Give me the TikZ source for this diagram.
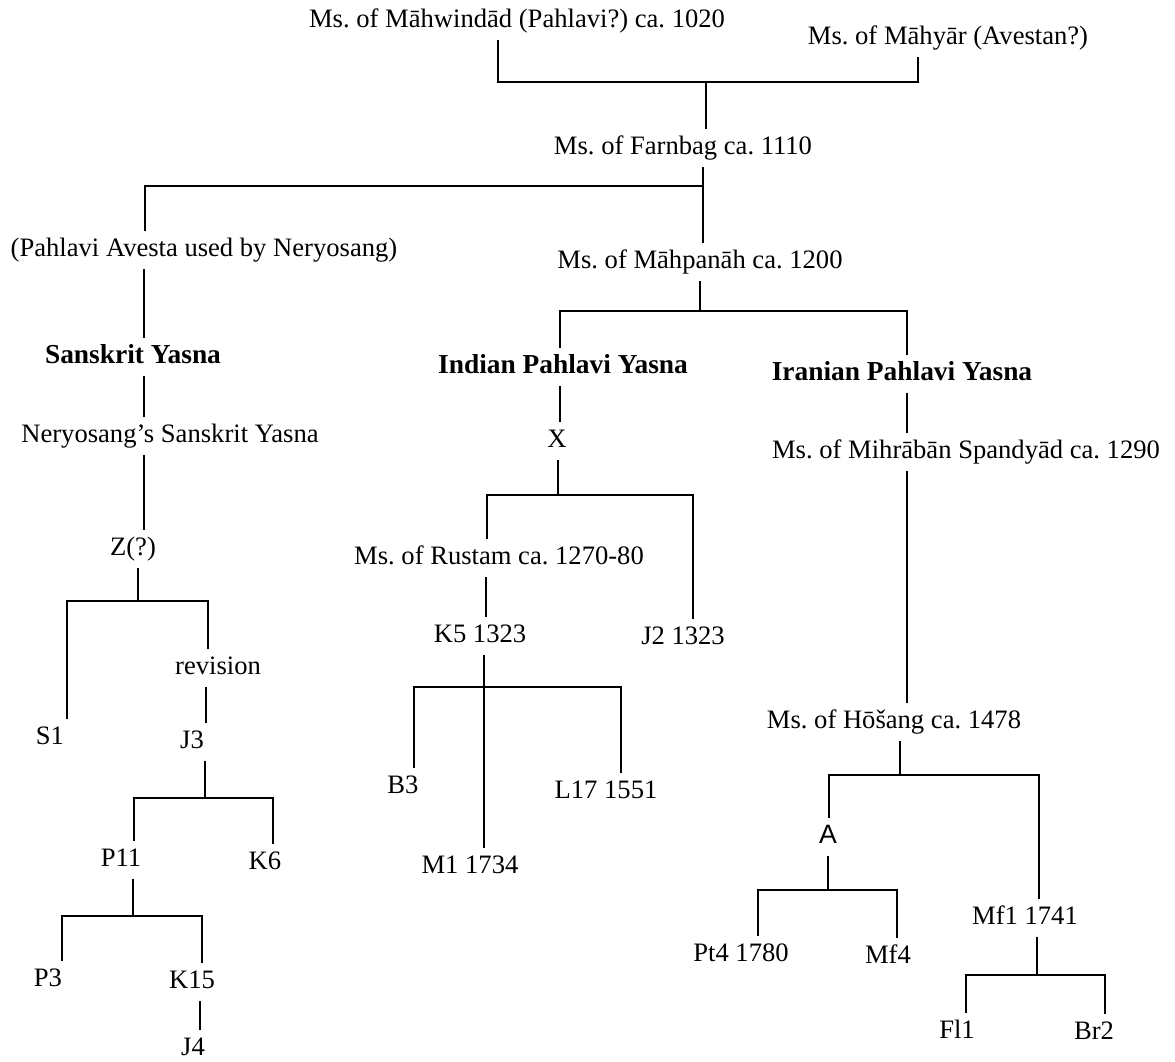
\documentclass[tikz,border=0pt]{standalone}
\usepackage{fontspec}
\setmainfont{Liberation Serif}
\setsansfont{Liberation Sans}

\begin{document}
\frenchspacing
\begin{tikzpicture}[x=0.5pt, y=-0.5pt, line width=0.65pt,
    ms/.style={inner sep=3.5pt, text height=9pt, text depth=2.8pt, font=\fontsize{13.3}{15}\selectfont},
    group/.style={ms, font=\fontsize{13.7}{16}\selectfont\bfseries}]
    \useasboundingbox (0,0) rectangle (1175,1062);

    % manuscripts
    \node[ms] (mahw) at (517,21) {Ms. of Māhwindād (Pahlavi?) ca. 1020};
    \node[ms] (mahy) at (948,38) {Ms. of Māhyār (Avestan?)};
    \node[ms] (farn) at (683,148) {Ms. of Farnbag ca. 1110};
    \node[ms] (pav) at (204,250) {(Pahlavi Avesta used by Neryosang)};
    \node[ms] (mahp) at (700,262) {Ms. of Māhpanāh ca. 1200};
    \node[group] (sans) at (133,357) {Sanskrit Yasna};
    \node[group] (indp) at (563,367) {Indian Pahlavi Yasna};
    \node[group] (iranp) at (902,374) {Iranian Pahlavi Yasna};
    \node[ms] (nery) at (170,436) {Neryosang's Sanskrit Yasna};
    \node[ms] (X) at (557,441) {X};
    \node[ms] (mihr) at (966,452) {Ms. of Mihrābān Spandyād ca. 1290};
    \node[ms] (Z) at (133,549) {Z(?)};
    \node[ms] (rust) at (499,558) {Ms. of Rustam ca. 1270-80};
    \node[ms] (K5) at (480,636) {K5 1323};
    \node[ms] (J2) at (683,638) {J2 1323};
    \node[ms] (rev) at (218,668) {revision};
    \node[ms] (S1) at (50,738) {S1};
    \node[ms] (J3) at (192,742) {J3};
    \node[ms] (hos) at (894,722) {Ms. of Hōšang ca. 1478};
    \node[ms] (B3) at (403,787) {B3};
    \node[ms] (L17) at (606,792) {L17 1551};
    \node[ms] (M1) at (470,867) {M1 1734};
    \node[ms] (P11) at (121,860) {P11};
    \node[ms] (K6) at (265,863) {K6};
    \node[ms, font=\fontsize{13.3}{15}\selectfont\sffamily] (A) at (828,837) {A};
    \node[ms] (Mf1) at (1025,918) {Mf1 1741};
    \node[ms] (Pt4) at (741,955) {Pt4 1780};
    \node[ms] (Mf4) at (888,957) {Mf4};
    \node[ms] (P3) at (48,980) {P3};
    \node[ms] (K15) at (192,982) {K15};
    \node[ms] (J4) at (193,1049) {J4};
    \node[ms] (Fl1) at (957,1032) {Fl1};
    \node[ms] (Br2) at (1094,1033) {Br2};

    % bars
    \coordinate (b1l) at (498,82); \coordinate (b1) at (706,82); \coordinate (b1r) at (918,82);
    \draw (mahw.south -| b1l) -- (b1l) -- (b1r) -- (mahy.south -| b1r);
    \draw (b1) -- (farn.north -| b1);

    \coordinate (b2l) at (145,186); \coordinate (b2) at (703,186);
    \draw (pav.north -| b2l) -- (b2l) -- (b2) -- (mahp.north -| b2);
    \draw (farn.south -| b2) -- (b2);

    \coordinate (b3l) at (560,311); \coordinate (b3) at (700,311); \coordinate (b3r) at (907,311);
    \draw (indp.north -| b3l) -- (b3l) -- (b3r) -- (iranp.north -| b3r);
    \draw (mahp.south -| b3) -- (b3);

    \coordinate (b4l) at (487,495); \coordinate (b4) at (558,495); \coordinate (b4r) at (693,495);
    \draw (rust.north -| b4l) -- (b4l) -- (b4r) -- (J2.north -| b4r);
    \draw (X.south -| b4) -- (b4);

    \coordinate (b5l) at (414,687); \coordinate (b5) at (484,687); \coordinate (b5r) at (621,687);
    \draw (B3.north -| b5l) -- (b5l) -- (b5r) -- (L17.north -| b5r);
    \draw (K5.south -| b5) -- (M1.north -| b5);

    \coordinate (b6l) at (67,601); \coordinate (b6) at (138,601); \coordinate (b6r) at (208,601);
    \draw (S1.north -| b6l) -- (b6l) -- (b6r) -- (rev.north -| b6r);
    \draw (Z.south -| b6) -- (b6);

    \coordinate (b7l) at (134,798); \coordinate (b7) at (205,798); \coordinate (b7r) at (273,798);
    \draw (P11.north -| b7l) -- (b7l) -- (b7r) -- (K6.north -| b7r);
    \draw (J3.south -| b7) -- (b7);

    \coordinate (b8l) at (62,916); \coordinate (b8) at (133,916); \coordinate (b8r) at (202,916);
    \draw (P3.north -| b8l) -- (b8l) -- (b8r) -- (K15.north -| b8r);
    \draw (P11.south -| b8) -- (b8);

    \coordinate (b9l) at (829,775); \coordinate (b9) at (900,775); \coordinate (b9r) at (1039,775);
    \draw (A.north -| b9l) -- (b9l) -- (b9r) -- (Mf1.north -| b9r);
    \draw (hos.south -| b9) -- (b9);

    \coordinate (b10l) at (758,890); \coordinate (b10) at (828,890); \coordinate (b10r) at (897,890);
    \draw (Pt4.north -| b10l) -- (b10l) -- (b10r) -- (Mf4.north -| b10r);
    \draw (A.south -| b10) -- (b10);

    \coordinate (b11l) at (966,975); \coordinate (b11) at (1037,975); \coordinate (b11r) at (1105,975);
    \draw (Fl1.north -| b11l) -- (b11l) -- (b11r) -- (Br2.north -| b11r);
    \draw (Mf1.south -| b11) -- (b11);

    % single lines
    \coordinate (c1) at (144,0);
    \draw (pav.south -| c1) -- (sans.north -| c1);
    \draw (sans.south -| c1) -- (nery.north -| c1);
    \draw (nery.south -| c1) -- (Z.north -| c1);
    \coordinate (c2) at (560,0);
    \draw (indp.south -| c2) -- (X.north -| c2);
    \coordinate (c3) at (907,0);
    \draw (iranp.south -| c3) -- (mihr.north -| c3);
    \draw (mihr.south -| c3) -- (hos.north -| c3);
    \coordinate (c4) at (486,0);
    \draw (rust.south -| c4) -- (K5.north -| c4);
    \coordinate (c5) at (206,0);
    \draw (rev.south -| c5) -- (J3.north -| c5);
    \coordinate (c6) at (200,0);
    \draw (K15.south -| c6) -- (J4.north -| c6);
\end{tikzpicture}
\end{document}
